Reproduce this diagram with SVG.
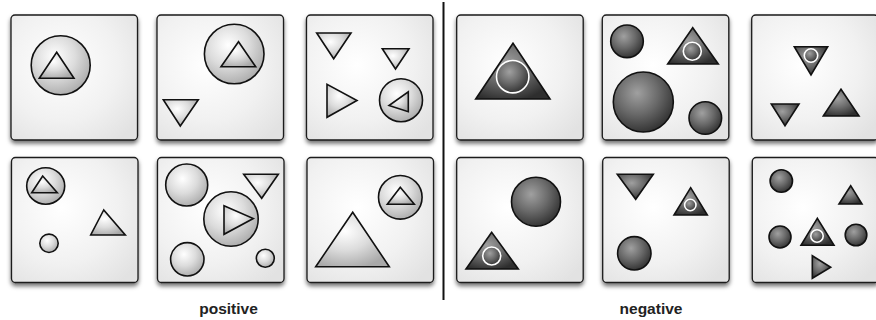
<svg xmlns="http://www.w3.org/2000/svg" width="876" height="320" viewBox="0 0 876 320">
<defs>
<radialGradient id="panelG" cx="0.4" cy="0.4" r="0.75">
<stop offset="0" stop-color="#ffffff"/>
<stop offset="0.6" stop-color="#f1f1f1"/>
<stop offset="1" stop-color="#e2e2e2"/>
</radialGradient>
<radialGradient id="lightG" cx="0.4" cy="0.35" r="0.7">
<stop offset="0" stop-color="#ffffff"/>
<stop offset="0.5" stop-color="#dcdcdc"/>
<stop offset="1" stop-color="#a9a9a9"/>
</radialGradient>
<radialGradient id="darkG" cx="0.4" cy="0.35" r="0.7">
<stop offset="0" stop-color="#a0a0a0"/>
<stop offset="0.5" stop-color="#6a6a6a"/>
<stop offset="1" stop-color="#2e2e2e"/>
</radialGradient>
<filter id="shadow" x="-10%" y="-10%" width="120%" height="125%">
<feDropShadow dx="0" dy="3" stdDeviation="2" flood-color="#000" flood-opacity="0.55"/>
</filter>
</defs>
<style>
.panel{fill:url(#panelG);stroke:#1a1a1a;stroke-width:1.3;filter:url(#shadow)}
.lt{fill:url(#lightG);stroke:#111;stroke-width:1.6;stroke-linejoin:miter}
.dk{fill:url(#darkG);stroke:#111;stroke-width:1.6}
.wc{fill:url(#darkG);stroke:#fff;stroke-width:1.6}
.lbl{font-family:"Liberation Sans",Arial,Helvetica,sans-serif;font-weight:bold;font-size:15.5px;fill:#222;text-anchor:middle}
</style>

<g id="p1">
<rect class="panel" x="11" y="15" width="126.5" height="125" rx="4"/>
<circle class="lt" cx="60.7" cy="65.3" r="29.5"/>
<polygon class="lt" points="56.7,52.3 39.3,78.3 74,78.3"/>
</g>
<g id="p2">
<rect class="panel" x="157" y="15" width="126.5" height="125" rx="4"/>
<circle class="lt" cx="234.2" cy="54" r="29.8"/>
<polygon class="lt" points="238.5,41.7 221,66.7 255.7,66.7"/>
<polygon class="lt" points="163.3,99.7 198.3,99.7 180.3,126"/>
</g>
<g id="p3">
<rect class="panel" x="306.5" y="15" width="126.5" height="125" rx="4"/>
<polygon class="lt" points="316.7,33 351,33 333.7,58.7"/>
<polygon class="lt" points="382.3,48.7 409,48.7 395.5,69"/>
<polygon class="lt" points="327,84.3 327,117.3 357,100.5"/>
<circle class="lt" cx="401" cy="100.2" r="21.5"/>
<polygon class="lt" points="408.3,91.8 408.3,111.7 389,105.5"/>
</g>
<g id="p4">
<rect class="panel" x="11.5" y="157.5" width="126.5" height="125" rx="4"/>
<ellipse class="lt" cx="45.7" cy="186" rx="19" ry="18.3"/>
<polygon class="lt" points="42.7,176 31.7,192.7 57.3,192.7"/>
<polygon class="lt" points="103.7,210 90.7,235 125.3,235"/>
<circle class="lt" cx="49" cy="243.3" r="9.2"/>
</g>
<g id="p5">
<rect class="panel" x="157.5" y="157.5" width="126.5" height="125" rx="4"/>
<circle class="lt" cx="186.7" cy="185" r="21"/>
<polygon class="lt" points="243.7,174.3 278.3,174.3 261.7,198.3"/>
<circle class="lt" cx="231" cy="219" r="27.2"/>
<polygon class="lt" points="224,205.7 224,234.3 253.3,218.5"/>
<circle class="lt" cx="187.3" cy="259.3" r="16.7"/>
<circle class="lt" cx="265.3" cy="258.3" r="9"/>
</g>
<g id="p6">
<rect class="panel" x="307" y="157.5" width="126.5" height="125" rx="4"/>
<circle class="lt" cx="400.3" cy="197.3" r="21.8"/>
<polygon class="lt" points="400.3,187.3 387.3,204.3 414.3,204.3"/>
<polygon class="lt" points="352.7,212.3 315.7,266.7 389.3,266.7"/>
</g>

<g id="n1">
<rect class="panel" x="456.7" y="15" width="126.5" height="125" rx="4"/>
<polygon class="dk" points="513,43.3 475.7,99 550,99"/>
<circle class="wc" cx="512.7" cy="76.7" r="16.2"/>
</g>
<g id="n2">
<rect class="panel" x="602.3" y="15" width="126.5" height="125" rx="4"/>
<circle class="dk" cx="627" cy="41.3" r="16.3"/>
<polygon class="dk" points="692.7,27.7 667.7,64 718.3,64"/>
<circle class="wc" cx="692.3" cy="51.3" r="9"/>
<circle class="dk" cx="643.3" cy="102" r="30"/>
<circle class="dk" cx="705.3" cy="118" r="16.3"/>
</g>
<g id="n3">
<rect class="panel" x="751.7" y="15" width="126.5" height="125" rx="4"/>
<polygon class="dk" points="794.3,46.7 827.7,46.7 811,75"/>
<circle class="wc" cx="811" cy="55.5" r="6.7"/>
<polygon class="dk" points="771.3,104 799,104 785,125.7"/>
<polygon class="dk" points="841,89.3 823.3,116 859,116"/>
</g>
<g id="n4">
<rect class="panel" x="456.7" y="157.5" width="126.5" height="125" rx="4"/>
<circle class="dk" cx="536" cy="201.7" r="24.5"/>
<polygon class="dk" points="491.7,232.3 466,269 518.3,269"/>
<circle class="wc" cx="491.7" cy="256" r="9"/>
</g>
<g id="n5">
<rect class="panel" x="602.7" y="157.5" width="126.5" height="125" rx="4"/>
<polygon class="dk" points="617.3,174.3 653.3,174.3 635.7,199.3"/>
<polygon class="dk" points="690.7,187.7 674,215 707.3,215"/>
<circle class="wc" cx="690.3" cy="205" r="5.7"/>
<circle class="dk" cx="634.3" cy="253.3" r="16.7"/>
</g>
<g id="n6">
<rect class="panel" x="752.3" y="157.5" width="126.5" height="125" rx="4"/>
<circle class="dk" cx="781.3" cy="181" r="11.2"/>
<polygon class="dk" points="850.7,185.7 839,204 862,204"/>
<circle class="dk" cx="780" cy="237" r="11"/>
<polygon class="dk" points="817.3,218.3 801,245.3 834,245.3"/>
<circle class="wc" cx="817" cy="236" r="6.2"/>
<circle class="dk" cx="856" cy="235" r="10.8"/>
<polygon class="dk" points="812.3,255.7 812.3,278.3 830.7,267.3"/>
</g>

<line x1="443.5" y1="2" x2="443.5" y2="300" stroke="#111" stroke-width="2"/>
<text class="lbl" x="228.5" y="314">positive</text>
<text class="lbl" x="651" y="314">negative</text>
</svg>
